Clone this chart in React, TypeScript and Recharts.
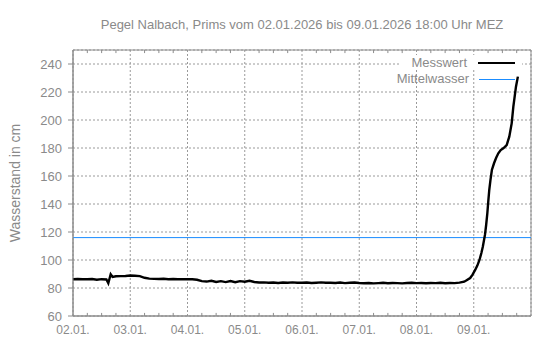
import React from 'react';
import { LineChart, Line, XAxis, YAxis, CartesianGrid, ReferenceLine, ReferenceArea, Legend } from 'recharts';

const TITLE = 'Pegel Nalbach, Prims vom 02.01.2026 bis 09.01.2026 18:00 Uhr MEZ';
const Y_LABEL = 'Wasserstand in cm';
const SERIES_NAME = 'Messwert';
const MW_NAME = 'Mittelwasser';
const MITTELWASSER = 116;

// hours since 02.01.2026 00:00
const hours = [
  0, 2, 4, 6, 8, 10, 12, 14, 14.8, 15.8, 16.6, 18, 20, 22, 24, 26, 28, 30, 32, 34, 36, 38, 40, 42, 44, 46,
  48, 50, 52, 54, 56, 58, 60, 62, 64, 66, 68, 70, 72, 74, 76, 78, 80, 82, 84, 86, 88, 90, 92, 94,
  96, 98, 100, 102, 104, 106, 108, 110, 112, 114, 116, 118, 120, 122, 124, 126, 128, 130, 132, 134, 136, 138, 140, 142,
  144, 146, 148, 150, 152, 154, 156, 158, 160, 162, 164, 165, 166.5, 167.5, 168.6, 169.5, 170.4, 171.2, 171.8, 172.7,
  173.2, 173.7, 174.1, 174.5, 175.0, 175.6, 176.5, 177.4, 178.3, 179.3, 180.4, 181.8, 182.9, 183.9, 184.6, 185.7, 186.5,
];
const levels = [
  86.3, 86.4, 86.3, 86.2, 86.4, 85.9, 86.3, 86.1, 83.4, 89.8, 87.9, 88.4, 88.5, 88.6, 88.9, 88.8, 88.5, 87.3, 86.7, 86.5, 86.4, 86.6, 86.3, 86.4, 86.2, 86.3,
  86.2, 86.2, 85.9, 84.9, 84.6, 85.2, 84.3, 84.9, 84.2, 85.0, 84.1, 84.9, 84.5, 85.2, 84.3, 83.9, 84.0, 83.7, 83.9, 83.6, 83.9, 83.7, 84.0, 83.8,
  83.7, 83.9, 83.6, 83.8, 84.0, 83.7, 83.8, 83.6, 83.9, 83.5, 83.7, 83.9, 83.6, 83.4, 83.6, 83.3, 83.5, 83.7, 83.4, 83.6, 83.5, 83.3, 83.6, 83.8,
  83.5, 83.6, 83.4, 83.6, 83.5, 83.7, 83.4, 83.6, 83.5, 83.8, 84.5, 85.5, 87.1, 89.5, 92.9, 96, 100, 105, 109.5, 117.9,
  125, 133.4, 142, 150, 157, 164.3, 169.1, 173, 176.2, 178.5, 179.8, 182.1, 188.1, 197.6, 209.5, 223.8, 231,
];

const dayTicks = [0, 24, 48, 72, 96, 120, 144, 168];
const dayLabels = ['02.01.', '03.01.', '04.01.', '05.01.', '06.01.', '07.01.', '08.01.', '09.01.'];
const minorTicks = [6, 12, 18, 30, 36, 42, 54, 60, 66, 78, 84, 90, 102, 108, 114, 126, 132, 138, 150, 156, 162, 174, 180, 186];
const yTicks = [60, 80, 100, 120, 140, 160, 180, 200, 220, 240];
const X_DOMAIN = [0, 192];
const Y_DOMAIN = [60, 250];

const data = hours.map((h, i) => ({ h, v: levels[i] }));

const FONT = '"Liberation Sans", Arial, sans-serif';
const TEXT = '#8a8a8a';
const FRAME = '#8c8c8c';
const BLUE = '#1a8cff';

const renderLegend = () => (
  <div style={{ position: 'relative', width: 555, height: 0, fontFamily: FONT, fontSize: 13, color: TEXT }}>
    <div style={{ position: 'absolute', left: 400, top: 55, width: 122, height: 15, background: '#fff' }} />
    <div style={{ position: 'absolute', left: 360, top: 55, width: 107, textAlign: 'right', lineHeight: '15px', whiteSpace: 'nowrap' }}>{SERIES_NAME}</div>
    <div style={{ position: 'absolute', left: 478, top: 61.5, width: 37, height: 2.5, background: '#000' }} />
    <div style={{ position: 'absolute', left: 360, top: 71, width: 109, textAlign: 'right', lineHeight: '15px', whiteSpace: 'nowrap' }}>{MW_NAME}</div>
    <div style={{ position: 'absolute', left: 479, top: 79, width: 36, height: 1, background: BLUE }} />
  </div>
);

export default function App() {
  return (
    <div style={{ position: 'absolute', left: 0, top: 0, width: 555, height: 350, background: '#fff', fontFamily: FONT }}>
      <div style={{ position: 'absolute', left: 73, top: 17, width: 458, textAlign: 'center', fontSize: 13, lineHeight: '15px', color: TEXT, whiteSpace: 'nowrap' }}>
        {TITLE}
      </div>
      <LineChart width={555} height={350} data={data} margin={{ top: 50, right: 24, bottom: 0, left: 0 }}>
        <CartesianGrid stroke="#9a9a9a" strokeDasharray="2 2" />
        <XAxis
          dataKey="h"
          type="number"
          domain={X_DOMAIN}
          ticks={dayTicks}
          height={34}
          tickLine={false}
          tickSize={6}
          tickMargin={3}
          axisLine={{ stroke: FRAME }}
          tick={{ fill: TEXT, fontSize: 12, fontFamily: FONT }}
          tickFormatter={(v: number) => dayLabels[dayTicks.indexOf(v)] ?? ''}
          allowDataOverflow
        />
        <YAxis
          type="number"
          domain={Y_DOMAIN}
          ticks={yTicks}
          width={73}
          tickSize={5}
          tickMargin={6}
          tickLine={{ stroke: FRAME }}
          axisLine={{ stroke: FRAME }}
          tick={{ fill: TEXT, fontSize: 13, fontFamily: FONT }}
          allowDataOverflow
          label={{
            value: Y_LABEL,
            content: (props: any) => {
              const vb = props.viewBox || { y: 50, height: 266 };
              const cy = vb.y + vb.height / 2;
              return (
                <text x={15} y={cy} transform={`rotate(-90, 15, ${cy})`} textAnchor="middle" dominantBaseline="central" fill={TEXT} fontSize={14} fontFamily={FONT}>
                  {Y_LABEL}
                </text>
              );
            },
          }}
        />
        <ReferenceArea x1={X_DOMAIN[0]} x2={X_DOMAIN[1]} y1={Y_DOMAIN[0]} y2={Y_DOMAIN[1]} fill="none" fillOpacity={0} stroke={FRAME} strokeWidth={1} ifOverflow="visible" />
        {minorTicks.map((t) => (
          <ReferenceLine key={'b' + t} segment={[{ x: t, y: 60 }, { x: t, y: 62.2 }]} stroke={FRAME} strokeWidth={1} ifOverflow="visible" />
        ))}
        {minorTicks.map((t) => (
          <ReferenceLine key={'t' + t} segment={[{ x: t, y: 250 }, { x: t, y: 247.8 }]} stroke={FRAME} strokeWidth={1} ifOverflow="visible" />
        ))}
        <ReferenceLine y={MITTELWASSER} stroke={BLUE} strokeWidth={1} />
        <Line dataKey="v" name={SERIES_NAME} type="linear" stroke="#000" strokeWidth={2.4} dot={false} isAnimationActive={false} />
        <Legend content={renderLegend} layout="horizontal" verticalAlign="middle" align="center" wrapperStyle={{ left: 0, top: 0, width: 555, height: 0 }} />
      </LineChart>
    </div>
  );
}
